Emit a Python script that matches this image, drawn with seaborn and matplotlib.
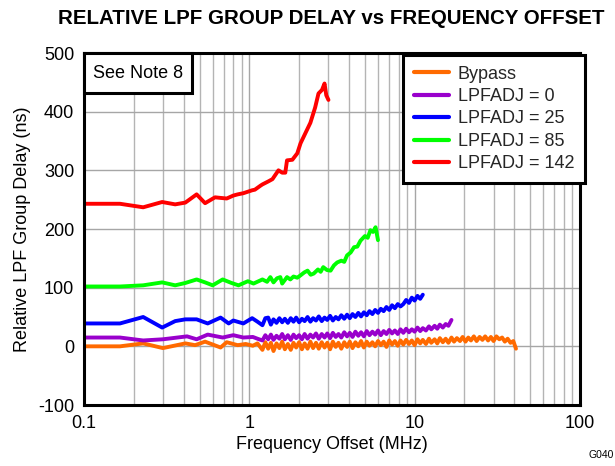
import matplotlib
matplotlib.use("Agg")
import matplotlib.pyplot as plt
import matplotlib.ticker as mticker
from matplotlib.patches import Rectangle
import seaborn as sns
import pandas as pd

# Relative group delay (ns) vs frequency offset (MHz)
# Sweep points above ~1.2 MHz, shared by the densely sampled traces
hf_grid = [1.20, 1.25, 1.30, 1.35, 1.40, 1.46, 1.52, 1.58, 1.64, 1.71,
           1.78, 1.85, 1.92, 2.00, 2.08, 2.16, 2.25, 2.34, 2.43, 2.53,
           2.63, 2.74, 2.85, 2.96, 3.08, 3.20, 3.33, 3.46, 3.60, 3.75,
           3.90, 4.05, 4.21, 4.38, 4.56, 4.74, 4.93, 5.13, 5.33, 5.55,
           5.77, 6.00, 6.24, 6.49, 6.75, 7.02, 7.30, 7.59, 7.90, 8.21,
           8.54, 8.88, 9.24, 9.61, 9.99, 10.4, 10.8, 11.2, 11.7, 12.2,
           12.6, 13.2, 13.7, 14.2, 14.8, 15.4, 16.0, 16.7, 17.3, 18.0,
           18.8, 19.5, 20.3, 21.1, 21.9, 22.8, 23.7, 24.7, 25.7, 26.7,
           27.8, 28.9, 30.0, 31.2, 32.5, 33.8, 35.1, 36.5, 38.0, 39.5,
           41.0]

bypass_lf_f = [0.1, 0.165, 0.228, 0.3, 0.41, 0.47, 0.54, 0.67, 0.73, 0.85, 0.95, 1.05, 1.12]
bypass_lf_d = [0, 0, 5, -3, 5, 2, 8, -2, 7, 2, 4, 1, 5]
bypass_hf_d = [-6, 7, -4, 6, -8, 5, -3, 8, -5, 4,
               -6, 6, -2, 7, -5, 5, -4, 8, -3, 6,
               -4, 7, -2, 6, -5, 8, -1, 6, -4, 7,
               -1, 8, -3, 7, 0, 9, -2, 8, 1, 7,
               0, 9, 2, 8, -1, 10, 3, 9, 1, 10,
               3, 11, 4, 10, 2, 12, 5, 11, 4, 13,
               6, 12, 5, 14, 7, 13, 6, 15, 8, 14,
               9, 16, 8, 15, 10, 17, 9, 16, 11, 17,
               10, 16, 9, 17, 12, 15, 8, 13, 6, 9,
               -4]

adj0_lf_f = [0.1, 0.165, 0.228, 0.3, 0.42, 0.48, 0.56, 0.69, 0.8, 0.92, 1.05, 1.12]
adj0_lf_d = [15, 15, 10, 12, 17, 12, 20, 15, 19, 15, 16, 13]
adj0_hf_d = [10, 19, 12, 20, 11, 18, 13, 21, 12, 19,
             11, 20, 14, 19, 12, 21, 13, 20, 15, 22,
             13, 21, 15, 22, 14, 23, 16, 21, 15, 24,
             17, 23, 16, 25, 18, 24, 17, 26, 19, 25,
             20, 27, 19, 26, 21, 28, 22, 27, 21, 29,
             23, 30, 24, 29, 25, 32, 26, 31, 27, 34,
             29, 35, 30, 37, 32, 38, 35, 45]

adj25_lf_f = [0.1, 0.165, 0.228, 0.297, 0.356, 0.41, 0.48, 0.56, 0.67, 0.75, 0.8, 0.92,
              1.04, 1.12]
adj25_lf_d = [39, 39, 50, 32, 43, 46, 46, 39, 49, 39, 44, 39, 48, 42]
adj25_hf_d = [36, 48, 49, 37, 46, 40, 48, 41, 47, 40,
              48, 42, 49, 41, 47, 43, 50, 42, 48, 44,
              51, 43, 49, 45, 52, 44, 50, 46, 53, 47,
              54, 48, 55, 50, 57, 51, 58, 53, 60, 55,
              62, 57, 64, 60, 67, 62, 70, 65, 72, 68,
              72, 79, 74, 83, 78, 86, 81, 88]

adj85_f = [0.1, 0.165, 0.228, 0.297, 0.356, 0.41, 0.48, 0.54, 0.6, 0.69, 0.78, 0.86, 0.98,
           1.06, 1.2, 1.28, 1.34, 1.4, 1.47, 1.54, 1.58, 1.69, 1.77, 1.85, 1.95, 2.04, 2.15,
           2.25, 2.35, 2.45, 2.6, 2.7, 2.8, 2.95, 3.1, 3.25, 3.4, 3.6, 3.75, 3.9, 4.1, 4.3,
           4.5, 4.7, 5.0, 5.2, 5.4, 5.6, 5.8, 5.9, 6.0]
adj85_d = [102, 102, 104, 109, 104, 108, 114, 109, 104, 114, 108, 104, 111, 107, 114, 110,
           118, 109, 116, 118, 107, 118, 114, 119, 117, 121, 126, 129, 122, 124, 131, 127,
           135, 130, 129, 138, 143, 146, 144, 155, 160, 169, 170, 180, 188, 185, 198, 195,
           203, 192, 181]

adj142_f = [0.1, 0.165, 0.228, 0.297, 0.356, 0.41, 0.48, 0.54, 0.62, 0.67, 0.73, 0.80, 0.85,
            0.92, 1.04, 1.08, 1.17, 1.2, 1.3, 1.38, 1.5, 1.58, 1.65, 1.69, 1.82, 1.95, 2.04,
            2.18, 2.34, 2.5, 2.62, 2.75, 2.85, 2.92, 3.01]
adj142_d = [243, 243, 237, 246, 242, 245, 259, 244, 254, 253, 252, 257, 259, 261, 266, 267, 274,
            276, 281, 285, 300, 296, 296, 317, 318, 329, 346, 363, 381, 407, 431, 437, 448, 428,
            420]

series_names = ["Bypass", "LPFADJ = 0", "LPFADJ = 25", "LPFADJ = 85", "LPFADJ = 142"]
series_colors = ["#FF6A00", "#9900CC", "#0000FF", "#00FF00", "#FF0000"]
x_ticks = [0.1, 1, 10, 100]
x_tick_labels = ["0.1", "1", "10", "100"]
y_ticks = [-100, 0, 100, 200, 300, 400, 500]

series = [
    (bypass_lf_f + hf_grid[:len(bypass_hf_d)], bypass_lf_d + bypass_hf_d),
    (adj0_lf_f + hf_grid[:len(adj0_hf_d)], adj0_lf_d + adj0_hf_d),
    (adj25_lf_f + hf_grid[:len(adj25_hf_d)], adj25_lf_d + adj25_hf_d),
    (adj85_f, adj85_d),
    (adj142_f, adj142_d),
]
frames = [pd.DataFrame({"freq": f, "delay": d, "series": n})
          for n, (f, d) in zip(series_names, series)]
df = pd.concat(frames, ignore_index=True)

sns.set_theme(style="white")
plt.rcParams["font.family"] = ["Liberation Sans", "DejaVu Sans"]
plt.rcParams["axes.unicode_minus"] = False

fig = plt.figure(figsize=(6.15, 4.66), dpi=100)
ax = fig.add_axes([84 / 615, 1 - 405 / 466, 496 / 615, 352 / 466])

sns.lineplot(data=df, x="freq", y="delay", hue="series", hue_order=series_names,
             palette=dict(zip(series_names, series_colors)), estimator=None, sort=False,
             linewidth=2.8, ax=ax, legend=True)

ax.set_xscale("log")
ax.set_xlim(0.1, 100)
ax.set_ylim(-100, 500)
ax.xaxis.set_major_locator(mticker.FixedLocator(x_ticks))
ax.xaxis.set_major_formatter(mticker.FixedFormatter(x_tick_labels))
ax.xaxis.set_minor_locator(mticker.LogLocator(base=10, subs=range(2, 10), numticks=20))
ax.xaxis.set_minor_formatter(mticker.NullFormatter())
ax.set_yticks(y_ticks)

ax.grid(True, which="major", color="#A6A6A6", linewidth=1.0)
ax.grid(True, which="minor", axis="x", color="#B4B4B4", linewidth=1.0)
ax.set_axisbelow(True)
ax.tick_params(axis="both", which="both", length=0, labelsize=13, colors="black", pad=7)
for sp in ax.spines.values():
    sp.set_color("black")
    sp.set_linewidth(2.2)

ax.set_xlabel("Frequency Offset (MHz)", fontsize=13, color="black", labelpad=3)
ax.set_ylabel("Relative LPF Group Delay (ns)", fontsize=13, color="black", labelpad=5)

leg = ax.legend(loc="upper right", bbox_to_anchor=(1.01, 0.995), fontsize=13,
                frameon=True, fancybox=False, framealpha=1, edgecolor="black",
                borderpad=0.6, handlelength=1.9, handletextpad=0.5, labelspacing=0.3,
                borderaxespad=0)
leg.get_frame().set_linewidth(2.2)
for line in leg.get_lines():
    line.set_linewidth(3.0)

# note box in the upper-left corner
ax.add_patch(Rectangle((0, 0.886), 0.218, 0.114, transform=ax.transAxes,
                       facecolor="white", edgecolor="black", linewidth=2.2, zorder=5,
                       clip_on=False))
ax.text(0.109, 0.943, "See Note 8", transform=ax.transAxes, ha="center", va="center",
        fontsize=13, color="black", zorder=6)

fig.text(331 / 615, 1 - 19 / 466, "RELATIVE LPF GROUP DELAY vs FREQUENCY OFFSET",
         ha="center", va="center", fontsize=14.8, fontweight="bold", color="black")
fig.text(614 / 615, 1 - 455 / 466, "G040", ha="right", va="center", fontsize=7.5,
         color="black")

fig.savefig("out.png", dpi=100)
